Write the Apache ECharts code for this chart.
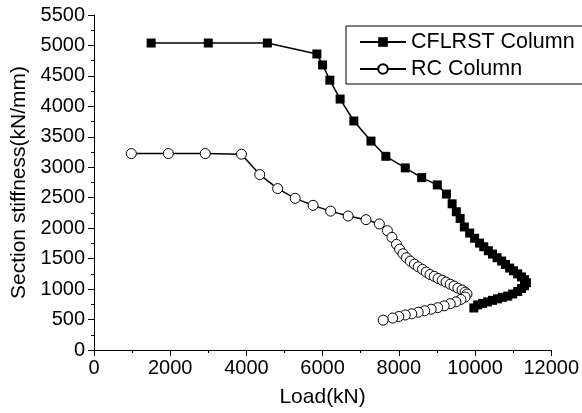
<!DOCTYPE html>
<html>
<head>
<meta charset="utf-8">
<script src="https://cdn.jsdelivr.net/npm/echarts@6/dist/echarts.min.js"></script>
<style>
  html, body { margin: 0; padding: 0; background: #fff; }
  #chart { width: 582px; height: 413px; }
</style>
</head>
<body>
<div id="chart"></div>
<script>
// values
const cflrstLoad = [1500, 3000, 4550, 5850, 6000, 6190, 6460, 6820, 7270, 7660, 8170, 8600, 9010, 9250,
  9400, 9510, 9610, 9720, 9860, 9990, 10120, 10230, 10350, 10460, 10580, 10700, 10800, 10910, 11010,
  11120, 11220, 11300, 11350, 11300, 11220, 11120, 10990, 10860, 10720, 10590, 10460, 10330, 10200, 10070, 9970];
const cflrstStiff = [5040, 5040, 5040, 4860, 4680, 4430, 4120, 3760, 3430, 3180, 2990, 2830, 2710, 2560,
  2400, 2270, 2160, 2020, 1920, 1835, 1755, 1695, 1630, 1575, 1515, 1460, 1405, 1345, 1300,
  1250, 1200, 1155, 1105, 1055, 1010, 960, 920, 885, 865, 840, 815, 790, 765, 740, 690];

const rcLoad = [980, 1950, 2920, 3870, 4350, 4820, 5280, 5750, 6210, 6670, 7140, 7490, 7700, 7820,
  7940, 8020, 8110, 8200, 8300, 8410, 8510, 8620, 8720, 8820, 8930, 9030, 9140, 9240, 9350, 9450,
  9550, 9660, 9740, 9790, 9740, 9630, 9500, 9350, 9190, 9020, 8850, 8680, 8510, 8340, 8170, 8000, 7840, 7590];
const rcStiff = [3225, 3225, 3225, 3215, 2880, 2650, 2490, 2375, 2280, 2200, 2140, 2070, 1960, 1850,
  1735, 1655, 1580, 1515, 1460, 1410, 1365, 1325, 1280, 1240, 1210, 1175, 1145, 1115, 1080, 1050,
  1015, 985, 950, 920, 870, 830, 790, 760, 725, 695, 670, 645, 620, 595, 575, 550, 525, 490];

const xTicks = { min: 0, max: 12000, interval: 2000 };
const yTicks = { min: 0, max: 5500, interval: 500 };

const FONT = 'Liberation Sans, Arial, sans-serif';

function zip(xs, ys) {
  return xs.map((x, i) => [x, ys[i]]);
}

const chart = echarts.init(document.getElementById('chart'));
chart.setOption({
  animation: false,
  backgroundColor: '#fff',
  grid: { left: 94, right: 27, top: 15, bottom: 57 },
  legend: {
    orient: 'vertical',
    left: 346,
    top: 26,
    padding: [5, 20, 4, 13],
    itemWidth: 46,
    itemHeight: 12,
    itemGap: 5,
    borderColor: '#000',
    borderWidth: 1,
    textStyle: { fontFamily: FONT, fontSize: 21.5, color: '#000' },
    data: ['CFLRST Column', 'RC Column']
  },
  xAxis: {
    type: 'value',
    min: xTicks.min,
    max: xTicks.max,
    interval: xTicks.interval,
    name: 'Load(kN)',
    nameLocation: 'middle',
    nameGap: 37,
    nameTextStyle: { fontFamily: FONT, fontSize: 21, color: '#000' },
    axisLine: { lineStyle: { color: '#000', width: 1 } },
    axisTick: { length: 6, lineStyle: { color: '#000' } },
    minorTick: { show: true, splitNumber: 2, length: 3, lineStyle: { color: '#000' } },
    splitLine: { show: false },
    axisLabel: { fontFamily: FONT, fontSize: 20, color: '#000', margin: 8, formatter: v => String(v) }
  },
  yAxis: {
    type: 'value',
    min: yTicks.min,
    max: yTicks.max,
    interval: yTicks.interval,
    name: 'Section stiffness(kN/mm)',
    nameLocation: 'middle',
    nameGap: 62,
    nameTextStyle: { fontFamily: FONT, fontSize: 21, color: '#000' },
    axisLine: { show: true, lineStyle: { color: '#000', width: 1 } },
    axisTick: { show: true, length: 6, lineStyle: { color: '#000' } },
    minorTick: { show: true, splitNumber: 2, length: 3, lineStyle: { color: '#000' } },
    splitLine: { show: false },
    axisLabel: { fontFamily: FONT, fontSize: 20, color: '#000', margin: 9, formatter: v => String(v) }
  },
  series: [
    {
      name: 'CFLRST Column',
      type: 'line',
      data: zip(cflrstLoad, cflrstStiff),
      symbol: 'rect',
      symbolSize: 9,
      lineStyle: { color: '#000', width: 1.5 },
      itemStyle: { color: '#000' }
    },
    {
      name: 'RC Column',
      type: 'line',
      data: zip(rcLoad, rcStiff),
      symbol: 'circle',
      symbolSize: 10,
      lineStyle: { color: '#000', width: 1.5 },
      itemStyle: { color: '#fff', borderColor: '#000', borderWidth: 1 }
    }
  ]
});
</script>
</body>
</html>
